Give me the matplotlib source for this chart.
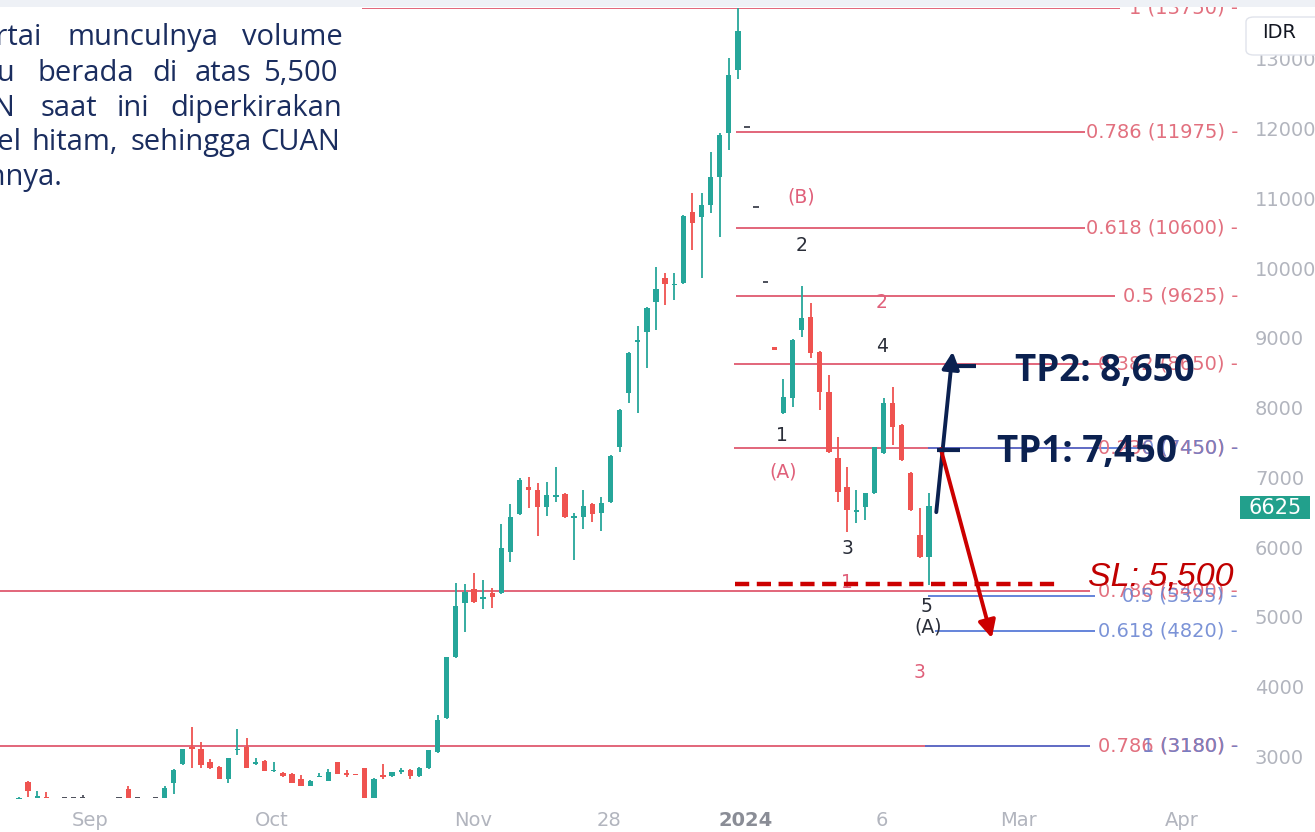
import matplotlib.pyplot as plt
from matplotlib.patches import FancyBboxPatch, Rectangle
from matplotlib.transforms import blended_transform_factory
import numpy as np

# ---- candle data (trading-day index, open, high, low, close) ----
day = [0, 1, 2, 3, 5, 6, 7, 11, 12, 13, 15, 16, 17, 18, 19, 20, 21, 22, 23, 24,
       25, 26, 27, 28, 29, 30, 31, 32, 33, 34, 35, 36, 37, 38, 39, 40, 41, 42, 43, 44,
       45, 46, 47, 48, 49, 50, 51, 52, 53, 54, 55, 56, 57, 58, 59, 60, 61, 62, 63, 64,
       65, 66, 67, 68, 69, 70, 71, 72, 73, 74, 75, 76, 77, 78, 79, 80, 81, 82, 83, 84,
       85, 86, 87, 88, 89, 90, 91, 92, 93, 94, 95, 96, 97, 98, 99, 100]
opens = [2430, 2660, 2450, 2450, 2440, 2440, 2440, 2440, 2570, 2440, 2440, 2440, 2656, 2928, 3170, 3129, 2943, 2885, 2713, 3130,
         3158, 2928, 2971, 2830, 2799, 2785, 2713, 2613, 2742, 2684, 2943, 2799, 2780, 2857, 2440, 2770, 2756, 2800, 2842, 2756,
         2857, 3086, 3574, 4449, 5224, 5425, 5300, 5368, 5368, 5956, 6501, 6889, 6846, 6602, 6760, 6788, 6460, 6458, 6645, 6516,
         6674, 7463, 8238, 8980, 9113, 9544, 9888, 9790, 9816, 10835, 10763, 10936, 11337, 11969, 12873, 12050, 10900, 9825, 8890, 7951,
         8166, 9142, 9328, 8826, 8252, 7305, 6889, 6545, 6602, 6803, 7377, 8094, 7779, 7090, 6200, 5884]
highs = [2450, 2680, 2540, 2520, 2445, 2445, 2470, 2450, 2613, 2450, 2450, 2600, 2850, 3140, 3445, 3230, 3000, 2890, 3010, 3416,
         3287, 3014, 2980, 2943, 2810, 2790, 2760, 2690, 2799, 2850, 2950, 2830, 2785, 2860, 2720, 2928, 2810, 2870, 2850, 2880,
         3120, 3617, 4460, 5511, 5497, 5655, 5554, 5440, 6358, 6645, 7018, 7032, 6946, 6961, 7176, 6800, 6516, 6846, 6660, 6745,
         7350, 8010, 8830, 9199, 9470, 10046, 9960, 9960, 10790, 11108, 11108, 11696, 11960, 13045, 13750, 12050, 10900, 9825, 8890, 8439,
         9010, 9773, 9529, 8840, 8496, 7606, 7176, 6846, 6810, 7470, 8166, 8324, 7790, 7100, 6588, 6803]
lows = [2430, 2444, 2450, 2430, 2435, 2435, 2430, 2435, 2440, 2435, 2435, 2440, 2498, 2900, 2871, 2871, 2850, 2713, 2656, 3057,
        2860, 2914, 2820, 2813, 2740, 2650, 2600, 2600, 2740, 2680, 2780, 2740, 2765, 2440, 2440, 2713, 2740, 2780, 2713, 2740,
        2850, 3080, 3560, 4440, 4808, 5230, 5138, 5153, 5360, 5813, 6490, 6588, 6186, 6473, 6674, 6450, 5841, 6286, 6387, 6257,
        6660, 7391, 8094, 7951, 8597, 9142, 9501, 9572, 9800, 10290, 9888, 10821, 10476, 11725, 12744, 12050, 10900, 9825, 8850, 7940,
        8037, 9041, 8740, 7994, 7380, 6674, 6243, 6372, 6415, 6790, 7360, 7492, 7260, 6550, 5870, 5483]
closes = [2450, 2541, 2470, 2440, 2440, 2440, 2440, 2440, 2440, 2440, 2440, 2584, 2842, 3129, 3150, 2900, 2857, 2713, 3000, 3145,
          2871, 2950, 2828, 2850, 2756, 2656, 2613, 2684, 2760, 2800, 2785, 2760, 2770, 2440, 2713, 2750, 2800, 2840, 2756, 2871,
          3115, 3545, 4449, 5181, 5382, 5239, 5320, 5310, 6014, 6458, 6989, 6846, 6602, 6774, 6774, 6458, 6473, 6616, 6501, 6659,
          7334, 7994, 8812, 8998, 9458, 9730, 9802, 9802, 10778, 10677, 10936, 11337, 11940, 12801, 13418, 12050, 10900, 9825, 8850, 8180,
          8998, 9314, 8812, 8252, 7391, 6817, 6559, 6559, 6803, 7463, 8094, 7750, 7276, 6559, 5884, 6625]

# ---- fibonacci levels ----
red_levels = [13750, 11975, 10600, 9625, 8650, 7450, 5400, 3180]
red_labels = ["1 (13750) -", "0.786 (11975) -", "0.618 (10600) -", "0.5 (9625) -",
              "0.382 (8650) -", "0.236 (7450) -", "0.786 (5400) -", "0.786 (3180) -"]
red_start = [37.7, 78.8, 78.8, 78.8, 78.6, 78.6, -5, -5]
red_end = [121.0, 117.1, 117.1, 120.4, 119.3, 118.2, 117.7, 117.7]

blue_levels = [7450, 5325, 4820, 3180]
blue_labels = ["0 (7450) -", "0.5 (5325) -", "0.618 (4820) -", "1 (3180) -"]
blue_start = [99.9, 99.9, 100.7, 99.6]
blue_end = [123.5, 118.2, 118.2, 117.7]

# ---- axis labels ----
price_ticks = [3000, 4000, 5000, 6000, 7000, 8000, 9000, 10000, 11000, 12000, 13000]
date_pos = [7.8, 27.8, 49.9, 64.8, 79.9, 94.8, 109.8, 127.8]
date_labels = ["Sep", "Oct", "Nov", "28", "2024", "6", "Mar", "Apr"]

# ---- wave labels (x, price, text, colour) ----
wave_x = [85.9, 86.0, 94.8, 94.8, 83.8, 84.0, 91.0, 91.0, 99.7, 99.9, 99.0]
wave_y = [11050, 10350, 9530, 8910, 7635, 7100, 6010, 5515, 5180, 4880, 4235]
wave_txt = ["(B)", "2", "2", "4", "1", "(A)", "3", "1", "5", "(A)", "3"]
wave_red = [True, False, True, False, False, True, False, True, False, False, True]

paragraph = [
    [("disertai", 42, "right"), ("munculnya", 68, "left"), ("volume", 242, "left")],
    [("itu", 15, "right"), ("berada", 37, "left"), ("di", 152, "left"), ("atas", 195, "left"), ("5,500", 263, "left")],
    [("CUAN", 15, "right"), ("saat", 40, "left"), ("ini", 117, "left"), ("diperkirakan", 170, "left")],
    [("level", 22, "right"), ("hitam,", 32, "left"), ("sehingga", 130, "left"), ("CUAN", 260, "left")],
    [("kenaikannya.", 62, "right")],
]
para_base = [45, 81, 116, 150, 185]

GREEN = "#26a69a"
RED = "#ef5350"
FIB_RED = "#dd4b63"
FIB_RED_TXT = "#e2707f"
FIB_BLUE = "#4a6fd4"
FIB_BLUE_TXT = "#6480d0"
NAVY = "#0b2150"
GREY = "#b2b5be"

W, H = 1315, 832
fig = plt.figure(figsize=(W / 100, H / 100), dpi=100)
ax = fig.add_axes([0, 1 - 805 / H, 1240 / W, (805 - 8) / H])
ax.set_xlim(-19 / 9.1, (1240 - 19) / 9.1)
ax.set_ylim(3000 - 46.5 * 14.33, 3000 + 750.5 * 14.33)
ax.set_axis_off()

# candles
o = np.array(opens, dtype=float)
c = np.array(closes, dtype=float)
cols = np.where(c > o, GREEN, np.where(c < o, RED, "#50535e"))
ax.vlines(day, lows, highs, colors=cols, lw=1.3, zorder=3)
bot = np.minimum(o, c)
hgt = np.abs(c - o)
flat = hgt < 22
bot = np.where(flat, bot - 11, bot)
hgt = np.where(flat, 22, hgt)
ax.bar(day, hgt, 0.58, bottom=bot, color=cols, zorder=3)

# fib lines + labels
lab_x = (1238 - 19) / 9.1
for lv, lb, s, e in zip(red_levels, red_labels, red_start, red_end):
    ax.hlines(lv, s, e, color=FIB_RED, lw=1.2, zorder=2)
    ax.text(lab_x, lv, lb, color=FIB_RED_TXT, fontsize=14, ha="right", va="center", clip_on=False, zorder=4)
for lv, lb, s, e in zip(blue_levels, blue_labels, blue_start, blue_end):
    ax.hlines(lv, s, e, color=FIB_BLUE, lw=1.2, zorder=2)
    ax.text(lab_x, lv, lb, color=FIB_BLUE_TXT, fontsize=14, ha="right", va="center", clip_on=False, zorder=4, alpha=0.85)

# wave counts
for x, y, t, r in zip(wave_x, wave_y, wave_txt, wave_red):
    ax.text(x, y, t, color="#e0607a" if r else "#2a2e39", fontsize=13.5, ha="center", va="center", zorder=5)

# stop loss
ax.hlines(5500, 78.7, 114.4, color="#cc0000", lw=3.2, linestyles=(0, (3.2, 1.7)), zorder=6)
ax.text(117.5, 5600, "SL: 5,500", color="#c00000", fontsize=24.5, family="Liberation Sans",
        style="italic", ha="left", va="center", zorder=7)

# targets
ax.annotate("", xy=(102.6, 8830), xytext=(100.8, 6530),
            arrowprops=dict(arrowstyle="-|>", color=NAVY, lw=2.8, mutation_scale=26, shrinkA=0, shrinkB=0), zorder=7)
ax.annotate("", xy=(106.9, 4725), xytext=(101.3, 7434),
            arrowprops=dict(arrowstyle="-|>", color="#cc0000", lw=2.8, mutation_scale=26, shrinkA=0, shrinkB=0), zorder=7)
ax.hlines(8620, 102.1, 105.2, color=NAVY, lw=3, zorder=7)
ax.hlines(7420, 100.9, 103.4, color=NAVY, lw=3, zorder=7)
ax.text(109.4, 8560, "TP2: 8,650", color=NAVY, fontsize=26.5, weight="bold", family="Open Sans",
        ha="left", va="center", zorder=8)
ax.text(107.5, 7390, "TP1: 7,450", color=NAVY, fontsize=26.5, weight="bold", family="Open Sans",
        ha="left", va="center", zorder=8)

# price scale
ty = blended_transform_factory(fig.transFigure, ax.transData)
for p in price_ticks:
    ax.text(1255 / W, p, str(p), transform=ty, color=GREY, fontsize=14, ha="left", va="center", clip_on=False)

# date scale
tx = blended_transform_factory(ax.transData, fig.transFigure)
for xp, lb in zip(date_pos, date_labels):
    bold = lb == "2024"
    ax.text(xp, 1 - 821 / H, lb, transform=tx, color="#8a8d96" if bold else GREY, fontsize=14,
            weight="bold" if bold else "normal", ha="center", va="center", clip_on=False)

# last price tag
fig.patches.append(Rectangle((1240 / W, 1 - 519 / H), 70 / W, 23 / H, transform=fig.transFigure,
                             facecolor="#22a08c", edgecolor="none", zorder=10))
fig.text(1275 / W, 1 - 507.5 / H, "6625", color="white", fontsize=15, ha="center", va="center", zorder=11)

# currency box
fig.patches.append(FancyBboxPatch((1246 / W, 1 - 55 / H), 80 / W, 38 / H, transform=fig.transFigure,
                                  boxstyle="round,pad=0,rounding_size=0.006", facecolor="white",
                                  edgecolor="#e0e3eb", lw=1, zorder=10))
fig.text(1262 / W, 1 - 33 / H, "IDR", color="#131722", fontsize=14, ha="left", va="center", zorder=11)

# top strip
fig.patches.append(Rectangle((0, 1 - 7 / H), 1, 7 / H, transform=fig.transFigure,
                             facecolor="#eef1f6", edgecolor="none", zorder=12))

# paragraph
for line, base in zip(paragraph, para_base):
    for word, xpos, align in line:
        fig.text(xpos / W, 1 - base / H, word, color="#1a2d5f", fontsize=21, family="Open Sans",
                 ha=align, va="baseline")

fig.savefig("out.png", dpi=100, facecolor="white")
